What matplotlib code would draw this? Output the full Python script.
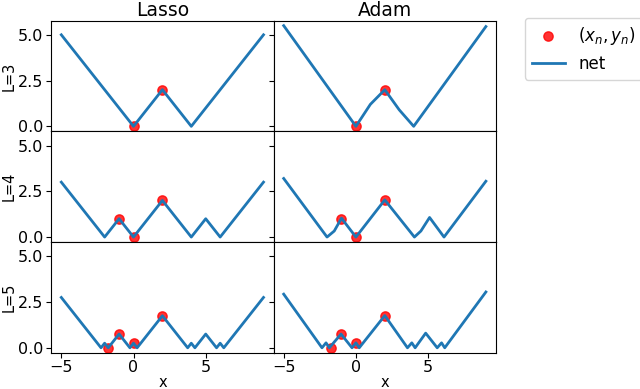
import numpy as np
import matplotlib
matplotlib.use("Agg")
import matplotlib.pyplot as plt

plt.rcParams['font.size'] = 12

# training points per depth
pts_x = {3: [0, 2], 4: [-1, 0, 2], 5: [-1.75, -1, 0, 2]}
pts_y = {3: [0, 2], 4: [1, 0, 2], 5: [0, 0.75, 0.25, 1.75]}

# network outputs
lasso_x = {
    3: [-5, 0, 2, 4, 9],
    4: [-5, -2, -1, 0, 2, 4, 5, 6, 9],
    5: [-5, -2.25, -2.0, -1.75, -1, -0.25, 0, 0.25, 2, 3.75, 4.0, 4.25, 5, 5.75, 6.0, 6.25, 9],
}
lasso_y = {
    3: [5, 0, 2, 0, 5],
    4: [3, 0, 1, 0, 2, 0, 1, 0, 3],
    5: [2.75, 0, 0.25, 0, 0.75, 0, 0.25, 0, 1.75, 0, 0.25, 0, 0.75, 0, 0.25, 0, 2.75],
}
adam_x = {
    3: [-5, 0, 1, 2, 3, 4, 9],
    4: [-5, -2, -1.5, -1, 0, 2, 4.05, 4.5, 5.1, 6.1, 9],
    5: [-5, -2.35, -2.07, -1.84, -1.03, -0.27, 0, 0.23, 2, 3.57, 3.87, 4.1, 4.83, 5.63, 5.93, 6.15, 9],
}
adam_y = {
    3: [5.5, 0, 1.2, 2, 0.9, 0, 5.45],
    4: [3.2, 0, 0.33, 1.03, 0, 2.03, 0, 0.33, 1.07, 0, 3.05],
    5: [2.93, 0, 0.27, 0, 0.75, 0, 0.27, 0, 1.76, 0, 0.27, 0, 0.8, 0, 0.27, 0, 3.05],
}
depths = [3, 4, 5]
methods = ["Lasso", "Adam"]

fig, axes = plt.subplots(3, 2, sharex=True, sharey=True, figsize=(6.4, 3.89), dpi=100)
fig.subplots_adjust(left=0.08, right=0.775, top=0.947, bottom=0.093, hspace=0, wspace=0)

for i, L in enumerate(depths):
    for j, m in enumerate(methods):
        ax = axes[i, j]
        xs = lasso_x[L] if m == "Lasso" else adam_x[L]
        ys = lasso_y[L] if m == "Lasso" else adam_y[L]
        ax.scatter(pts_x[L], pts_y[L], color="red", s=45, alpha=0.8, label="$(x_n, y_n)$")
        ax.plot(xs, ys, color="C0", lw=2, label="net")
        ax.tick_params(labelsize=11.5, pad=2)
        if i == 0:
            ax.set_title(m, fontsize=13.5, pad=3.5)
        if j == 0:
            ax.set_ylabel(f"L={L}", fontsize=10.5, labelpad=1)
        if i == 2:
            ax.set_xlabel("x", fontsize=10.5, labelpad=0)

axes[0, 0].set_yticks([0, 2.5, 5.0])
axes[0, 0].set_xticks([-5, 0, 5])

h, l = axes[0, 0].get_legend_handles_labels()
fig.legend(h, l, loc="upper left", bbox_to_anchor=(525 / 640, 1 - 18 / 389),
           bbox_transform=fig.transFigure, borderaxespad=0)

fig.savefig("out.png", dpi=100)
